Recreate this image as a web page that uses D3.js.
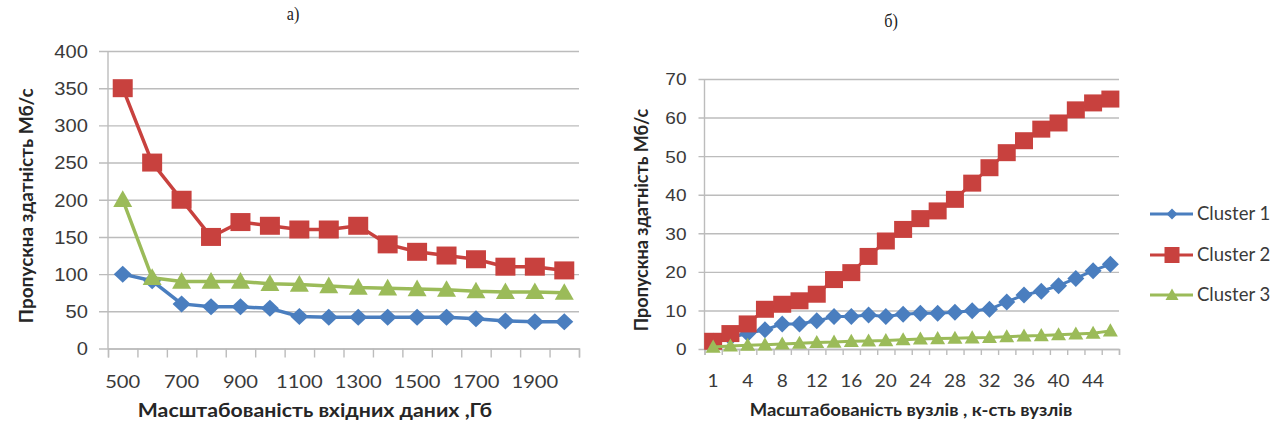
<!DOCTYPE html>
<html><head><meta charset="utf-8">
<script src="https://cdn.jsdelivr.net/npm/d3@7"></script>
<style>
html,body{margin:0;padding:0;background:#fff;}
svg{display:block;font-family:Lato,"Open Sans",sans-serif;}
</style></head><body>
<svg id="chart" width="1275" height="425"></svg>
<script>
const seriesNames = ["Cluster 1", "Cluster 2", "Cluster 3"];
const seriesColors = ["#4a7ebf", "#c8413e", "#9bbb59"];
const markerShapes = ["diamond", "square", "triangle"];

// a) throughput against input data volume, GB
const volumeCategories = [500, 600, 700, 800, 900, 1000, 1100, 1200, 1300, 1400, 1500, 1600, 1700, 1800, 1900, 2000];
const volumeTickLabels = ["500", "700", "900", "1100", "1300", "1500", "1700", "1900"];
const volumeCluster1 = [100, 91, 60, 56, 56, 54, 43, 42, 42, 42, 42, 42, 40, 37, 36, 36];
const volumeCluster2 = [350, 250, 200, 150, 170, 165, 160, 160, 165, 140, 130, 125, 120, 110, 110, 105];
const volumeCluster3 = [200, 95, 90, 90, 90, 87, 86, 84, 82, 81, 80, 79, 77, 76, 76, 75];
const volumeTicks = [0, 50, 100, 150, 200, 250, 300, 350, 400];

// б) throughput against number of nodes
const nodeCategories = [1, 2, 4, 6, 8, 10, 12, 14, 16, 18, 20, 22, 24, 26, 28, 30, 32, 34, 36, 38, 40, 42, 44, 46];
const nodeTickLabels = ["1", "4", "8", "12", "16", "20", "24", "28", "32", "36", "40", "44"];
const nodeCluster1 = [2, 3, 4, 5, 6.5, 6.5, 7.3, 8.4, 8.4, 8.8, 8.4, 9, 9.3, 9.3, 9.5, 9.9, 10.3, 12.2, 14, 15, 16.4, 18.3, 20.3, 22];
const nodeCluster2 = [2, 4, 6.5, 10.3, 11.6, 12.5, 14.2, 18, 19.8, 24, 28, 31, 33.8, 35.8, 38.8, 43, 47, 50.9, 54, 57, 58.6, 62, 63.8, 64.8];
const nodeCluster3 = [0.5, 0.8, 1, 1.1, 1.3, 1.5, 1.7, 1.8, 2, 2.1, 2.2, 2.4, 2.6, 2.7, 2.8, 2.9, 3, 3.2, 3.4, 3.5, 3.7, 3.9, 4.1, 4.7];
const nodeTicks = [0, 10, 20, 30, 40, 50, 60, 70];

const yTitle = "Пропускна здатність Мб/с";

const svg = d3.select("#chart");
const SX = 1.12; // horizontal stretch applied to lettering

function markerPath(shape, hw, hh) {
  const p = d3.path();
  if (shape === "diamond") {
    p.moveTo(0, -hh); p.lineTo(hw, 0); p.lineTo(0, hh); p.lineTo(-hw, 0); p.closePath();
  } else if (shape === "square") {
    p.rect(-hw, -hh, 2 * hw, 2 * hh);
  } else {
    p.moveTo(0, -hh); p.lineTo(hw, hh * 0.75); p.lineTo(-hw, hh * 0.75); p.closePath();
  }
  return p.toString();
}

function panel(cfg) {
  const g = svg.append("g");
  const x = d3.scaleBand().domain(cfg.categories).range([cfg.left, cfg.right]).padding(0);
  const xi = d3.scaleLinear().domain([0, cfg.categories.length]).range([cfg.left, cfg.right]);
  const y = d3.scaleLinear().domain([0, d3.max(cfg.ticks)]).range([cfg.bottom, cfg.top]);

  // horizontal gridlines with outward ticks
  const yAxis = g.append("g").attr("transform", `translate(${cfg.left},0)`)
    .call(d3.axisLeft(y).tickValues(cfg.ticks).tickSize(-(cfg.right - cfg.left)).tickPadding(0).tickFormat(""));
  yAxis.select(".domain").remove();
  yAxis.selectAll("line").attr("stroke", "#bcbcbc").attr("stroke-width", 1.4).attr("x1", -cfg.tickLen);
  yAxis.append("line").attr("y1", y(d3.max(cfg.ticks))).attr("y2", cfg.bottom)
    .attr("stroke", "#bcbcbc").attr("stroke-width", 1.4);
  yAxis.selectAll(".tick").append("text")
    .attr("fill", "#3a3a3a").attr("font-size", cfg.tickFont).attr("text-anchor", "end")
    .attr("dy", "0.35em")
    .attr("transform", `translate(${-cfg.labelGap},0) scale(${SX},1)`)
    .text(d => d);

  // x axis: ticks on category boundaries, labels at every other category
  const xAxis = g.append("g").attr("transform", `translate(0,${cfg.bottom})`)
    .call(d3.axisBottom(xi).tickValues(d3.range(cfg.categories.length + 1)).tickSize(cfg.tickLen).tickFormat(""));
  xAxis.select(".domain").attr("stroke", "#bcbcbc").attr("stroke-width", 1.4);
  xAxis.selectAll("line").attr("stroke", "#bcbcbc").attr("stroke-width", 1.4);
  const labelled = cfg.categories.filter((c, i) => i % 2 === 0);
  g.append("g").selectAll("text").data(labelled).join("text")
    .attr("fill", "#3a3a3a").attr("font-size", cfg.tickFont).attr("text-anchor", "middle")
    .attr("transform", (c, i) => `translate(${x(c) + x.bandwidth() / 2},${cfg.xLabelY}) scale(${SX},1)`)
    .text((c, i) => cfg.tickLabels[i]);

  // series lines and markers
  cfg.series.forEach((vals, s) => {
    const pts = vals.map((v, i) => [x(cfg.categories[i]) + x.bandwidth() / 2, y(v)]);
    g.append("path").attr("d", d3.line()(pts)).attr("fill", "none")
      .attr("stroke", seriesColors[s]).attr("stroke-width", cfg.lineW).attr("stroke-linejoin", "round");
    const m = cfg.markers[s];
    g.append("g").selectAll("path").data(pts).join("path")
      .attr("transform", d => `translate(${d[0]},${d[1]})`)
      .attr("d", markerPath(markerShapes[s], m[0], m[1]))
      .attr("fill", seriesColors[s]);
  });

  // titles
  g.append("text").attr("font-family", "'Liberation Serif', 'DejaVu Serif', serif").attr("font-size", 18)
    .attr("fill", "#222").attr("text-anchor", "middle")
    .attr("transform", `translate(${cfg.titleX},${cfg.titleY}) scale(0.9,1)`).text(cfg.title);
  g.append("text").attr("font-weight", "bold").attr("font-size", cfg.yTitleFont).attr("fill", "#262626")
    .attr("text-anchor", "middle")
    .attr("transform", `translate(${cfg.yTitleX},${(cfg.top + cfg.bottom) / 2 + cfg.yTitleShift}) rotate(-90)`)
    .text(yTitle);
  g.append("text").attr("font-weight", "bold").attr("font-size", cfg.xTitleFont).attr("fill", "#262626")
    .attr("text-anchor", "middle")
    .attr("transform", `translate(${cfg.xTitleX},${cfg.xTitleY}) scale(${SX},1)`)
    .text(cfg.xTitle);
}

panel({
  categories: volumeCategories, tickLabels: volumeTickLabels, ticks: volumeTicks,
  series: [volumeCluster1, volumeCluster2, volumeCluster3],
  left: 108, right: 579, top: 51, bottom: 348.5,
  tickLen: 9, labelGap: 20, tickFont: 18, xLabelY: 388,
  lineW: 3.5, markers: [[9, 8.5], [10, 9], [9.5, 9.5]],
  title: "а)", titleX: 293, titleY: 20,
  yTitleX: 33, yTitleShift: 6, yTitleFont: 19,
  xTitle: "Масштабованість  вхідних даних ,Гб", xTitleX: 315, xTitleY: 417, xTitleFont: 19
});

panel({
  categories: nodeCategories, tickLabels: nodeTickLabels, ticks: nodeTicks,
  series: [nodeCluster1, nodeCluster2, nodeCluster3],
  left: 704.5, right: 1119, top: 79, bottom: 349,
  tickLen: 6, labelGap: 18, tickFont: 17, xLabelY: 387,
  lineW: 3, markers: [[8.5, 8.5], [9, 8.5], [7.5, 7.5]],
  title: "б)", titleX: 891, titleY: 27,
  yTitleX: 648, yTitleShift: 6, yTitleFont: 18,
  xTitle: "Масштабованість вузлів , к-сть вузлів", xTitleX: 911, xTitleY: 416, xTitleFont: 16.5
});

// legend
const legend = svg.append("g").attr("transform", "translate(1150,0)");
const legendY = [214, 255, 295];
const legendMarkers = [[5.5, 5.5], [7.5, 8], [6.5, 6.5]];
seriesNames.forEach((name, s) => {
  const row = legend.append("g").attr("transform", `translate(0,${legendY[s]})`);
  row.append("line").attr("x1", 0).attr("x2", 43).attr("stroke", seriesColors[s]).attr("stroke-width", 3);
  row.append("path").attr("transform", "translate(22,0)")
    .attr("d", markerPath(markerShapes[s], legendMarkers[s][0], legendMarkers[s][1]))
    .attr("fill", seriesColors[s]);
  row.append("text").attr("font-size", 18.5).attr("fill", "#3a3a3a").attr("dy", "0.35em")
    .attr("transform", "translate(47,0)").text(name);
});
</script>
</body></html>
